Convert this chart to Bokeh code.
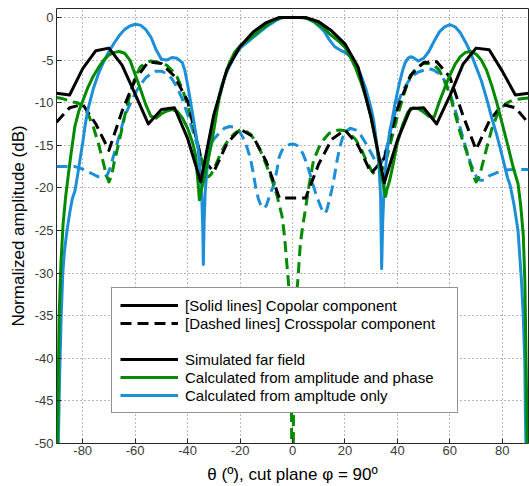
from bokeh.plotting import figure
from bokeh.models import Range1d, FixedTicker, Legend, LegendItem
from bokeh.embed import file_html
from bokeh.resources import INLINE

# ---------------- data ----------------
# Simulated far field, 5 degree sampling
theta_sim = [-90, -85, -80, -75, -70, -65, -60, -55, -50, -45, -40, -35, -30, -25, -20, -15, -10, -5, 0,
             5, 10, 15, 20, 25, 30, 35, 40, 45, 50, 55, 60, 65, 70, 75, 80, 85, 90]
sim_copolar = [-8.9, -9.1, -6.0, -3.9, -3.6, -5.6, -9.0, -12.5, -10.8, -10.6, -14.2, -19.3, -11.4, -6.1, -3.4, -1.7, -0.6, 0.0, 0.0,
               0.0, -0.5, -1.6, -3.1, -5.8, -11.8, -19.4, -14.4, -10.7, -10.6, -12.5, -9.2, -5.5, -3.6, -3.8, -6.3, -9.1, -8.9]
sim_crosspolar = [-12.3, -10.6, -10.2, -12.5, -15.6, -11.0, -7.3, -5.2, -5.4, -6.9, -9.8, -16.4, -18.1, -14.8, -13.1, -14.0, -16.9, -21.2, -21.2,
                  -21.2, -17.2, -14.3, -13.2, -15.0, -18.3, -16.5, -10.7, -6.8, -5.3, -5.2, -7.0, -11.5, -15.5, -12.2, -10.2, -10.6, -12.4]

# Calculated from amplitude and phase - copolar
theta_ap_co = [-90, -89.5, -89, -88.3, -87.5, -86.5, -85.5, -84.5, -83, -81.5, -80, -78, -76, -74, -72, -70, -68, -66, -64, -62,
               -60, -58, -56, -54, -52, -50, -48, -46, -44, -42, -40, -38, -37, -36, -35.5, -35, -34, -33, -32, -31,
               -30, -29, -28, -26, -24, -22, -20, -18, -16, -14, -12, -10, -8, -6, -4, -2, 0, 2, 4, 6,
               8, 10, 12, 14, 16, 18, 20, 22, 24, 26, 28, 30, 32, 33, 34, 35, 35.5, 36, 37, 38,
               40, 42, 44, 46, 48, 50, 52, 54, 56, 58, 60, 62, 64, 66, 68, 70, 72, 74, 76, 78,
               80, 82, 84, 86, 87, 88, 88.6, 89, 89.5, 90]
ap_copolar = [-60, -47, -35, -28.8, -24.3, -21, -18.5, -16.1, -12.8, -11.0, -9.8, -8.2, -6.9, -5.9, -5.0, -4.4, -4.1, -4.0, -4.2, -5.0,
              -6.7, -8.4, -10.2, -11.6, -11.8, -11.3, -11.0, -10.8, -11.0, -11.8, -13.0, -14.8, -16.1, -19.5, -21.4, -20.5, -19.3, -17.8, -16.4, -15.0,
              -13.2, -11.3, -9.6, -7.1, -5.3, -4.05, -3.35, -2.85, -2.4, -1.9, -1.4, -0.95, -0.5, -0.2, 0.0, 0.0, 0.0, 0.0, 0.0, -0.15,
              -0.45, -0.85, -1.25, -1.9, -2.4, -2.9, -3.5, -4.6, -5.9, -7.5, -9.4, -11.8, -14.9, -16.7, -18.5, -20.3, -21.0, -20.2, -19.2, -17.8,
              -14.7, -12.6, -11.1, -10.6, -10.7, -11.1, -11.6, -11.7, -9.9, -8.3, -6.8, -5.5, -4.6, -4.1, -4.0, -4.3, -5.0, -6.2, -8.0, -10.1,
              -12.5, -14.9, -17.4, -19.5, -22.0, -25.5, -30.8, -38.6, -50, -60]

# Calculated from amplitude and phase - crosspolar
theta_ap_x = [-90, -88, -86, -84, -82, -80, -78, -76, -74, -72, -71, -70, -69, -68, -66, -64, -62, -60, -58, -56,
              -54, -52, -50, -48, -46, -44, -42, -40, -38, -36, -34, -33, -32, -31, -30, -28, -26, -24, -22, -20,
              -18, -16, -14, -12, -10, -8, -6, -4, -3, -2, -1, -0.5, 0, 0.5, 1, 2, 3, 4, 5, 6,
              7, 8, 10, 12, 14, 16, 18, 20, 22, 24, 26, 28, 30, 32, 33, 34, 36, 38, 40, 42,
              44, 46, 48, 50, 52, 54, 56, 58, 60, 62, 64, 66, 68, 69, 70, 71, 72, 74, 76, 78,
              80, 82, 84, 86, 88, 90]
ap_crosspolar = [-9.4, -9.5, -9.7, -9.9, -10.0, -10.4, -11.3, -12.8, -14.8, -17.2, -18.5, -19.3, -18.6, -17.0, -14.4, -11.6, -9.0, -7.0, -5.8, -5.3,
                 -5.1, -5.2, -5.4, -5.6, -6.2, -7.0, -8.4, -10.3, -12.5, -15.0, -17.6, -18.5, -18.7, -18.4, -17.8, -16.4, -15.1, -14.2, -13.6, -13.2,
                 -13.3, -13.7, -14.6, -15.8, -17.3, -18.9, -20.8, -23.3, -25.8, -29.5, -33, -38, -70, -38, -34, -31, -26.5, -24.3, -22.4, -20.3,
                 -18.5, -16.8, -15.3, -14.3, -13.6, -13.3, -13.2, -13.3, -13.7, -14.3, -15.3, -16.7, -17.9, -18.7, -18.6, -18.0, -16.4, -14.0, -11.6, -9.5,
                 -7.6, -6.4, -5.7, -5.4, -5.4, -5.6, -6.2, -7.5, -9.0, -11.3, -13.6, -15.4, -17.4, -18.6, -19.3, -18.8, -17.8, -15.4, -13.1, -11.5,
                 -10.5, -10.0, -9.7, -9.6, -9.5, -9.45]

# Calculated from amplitude only - copolar
theta_a_co = [-90, -89.3, -88.8, -88.2, -87.6, -87, -86, -85, -84, -83, -82, -81, -80, -79, -78, -76, -74, -72, -70, -68,
              -66, -64, -62, -60, -58, -56, -54, -52, -50, -48, -46, -44, -42, -41, -40, -39, -38, -37, -36, -35.2,
              -34.6, -34.2, -34, -33.7, -33.3, -32.5, -32, -31, -30, -29, -28, -27, -26, -24, -22, -20, -18, -16, -14, -12,
              -10, -8, -6, -4, -2, 0, 2, 4, 6, 8, 10, 12, 14, 16, 18, 20, 22, 24, 26, 28,
              30, 31, 32, 33, 33.6, 34, 34.4, 35, 36, 37, 38, 39, 40, 41, 42, 43, 44, 45, 46, 48,
              50, 52, 54, 56, 58, 60, 62, 64, 66, 68, 70, 72, 74, 76, 78, 80, 82, 83, 84.5, 86,
              87.3, 88, 88.6, 88.8, 89, 90]
a_copolar = [-65, -50, -42, -35, -30, -27.5, -25, -23, -21.3, -20.4, -18.6, -16.6, -14.7, -12.5, -10.8, -8.4, -6.6, -5.2, -4.0, -3.0,
             -2.1, -1.4, -1.0, -0.8, -0.9, -1.4, -2.3, -3.8, -4.9, -5.0, -4.7, -4.8, -5.3, -6.3, -7.9, -9.7, -11.5, -13.4, -15.3, -18.2,
             -21, -25, -29, -24, -20.5, -17.5, -16.4, -14.2, -12.5, -10.8, -9.3, -8.0, -7.1, -5.7, -4.5, -3.6, -3.1, -2.6, -2.1, -1.6,
             -1.1, -0.7, -0.3, -0.05, 0, 0, 0, -0.05, -0.2, -0.5, -1.0, -1.6, -2.6, -3.4, -3.8, -4.1, -4.6, -5.5, -6.7, -8.4,
             -10.7, -12.2, -14.5, -17.5, -21, -29.5, -24, -19.5, -16, -13.5, -12.0, -10.3, -8.8, -7.4, -6.2, -5.3, -4.8, -4.6, -4.7, -5.1,
             -4.8, -4.0, -2.8, -1.7, -1.1, -0.85, -1.1, -1.8, -2.9, -4.2, -5.8, -7.4, -9.5, -11.8, -13.9, -16.3, -18.8, -19.7, -22, -25,
             -30.8, -35, -40.6, -46.4, -50, -65]

# Calculated from amplitude only - crosspolar
theta_a_x = [-90, -86, -83, -80, -78, -76, -74, -72.5, -71.5, -70.5, -69.5, -68, -66, -64, -62, -60, -58, -56, -54, -52,
             -50, -48, -46, -44, -42, -40, -38, -36, -35, -34, -33, -32, -30, -28, -26, -24, -22, -20, -18, -16,
             -15, -14, -13, -12, -11, -10, -9, -8, -7, -6, -5, -4, -3, -2, -1, 0, 1, 2, 3, 4,
             5, 6, 7, 8, 9, 10, 11, 12, 13, 14, 15, 16, 17, 18, 19, 20, 22, 24, 26, 28,
             30, 31, 32, 33, 34, 35, 36, 38, 40, 42, 44, 46, 48, 50, 52, 54, 56, 58, 60, 62,
             64, 66, 68, 70, 71.5, 73, 75, 78, 81, 85, 90]
a_crosspolar = [-17.5, -17.5, -17.5, -17.8, -18.1, -18.4, -18.7, -18.8, -18.7, -18.4, -17.6, -16.0, -13.8, -11.6, -10.2, -8.9, -7.9, -7.1, -6.6, -6.3,
                -6.3, -6.6, -7.2, -8.2, -9.6, -11.4, -13.3, -15.3, -16.5, -17.3, -16.5, -15.3, -14.3, -13.6, -13.0, -12.8, -12.9, -13.5, -14.6, -16.6,
                -18.2, -20.0, -21.3, -22.1, -22.4, -22.1, -21.2, -20.3, -19.6, -18.0, -16.3, -15.6, -15.2, -15.0, -14.9, -14.85, -14.9, -15.1, -15.5, -16.0,
                -16.8, -17.7, -18.7, -19.8, -20.8, -21.6, -22.4, -23.0, -22.7, -21.5, -20.2, -18.6, -16.8, -15.3, -14.2, -13.5, -13.0, -13.2, -13.8, -14.8,
                -15.9, -16.5, -17.1, -17.5, -17.0, -16.2, -15.2, -12.5, -10.2, -8.6, -7.6, -6.8, -6.4, -6.2, -6.0, -6.2, -6.6, -7.4, -8.8, -10.8,
                -13.0, -15.2, -17.2, -18.6, -19.1, -19.1, -18.6, -18.2, -17.9, -17.85, -17.85]

x_ticks = [-80, -60, -40, -20, 0, 20, 40, 60, 80]
x_tick_labels = ["-80", "-60", "-40", "-20", "0", "20", "40", "60", "80"]
y_ticks = [0, -5, -10, -15, -20, -25, -30, -35, -40, -45, -50]
y_tick_labels = ["0", "-5", "-10", "-15", "-20", "-25", "-30", "-35", "-40", "-45", "-50"]

legend_labels = ["[Solid lines] Copolar component",
                 "[Dashed lines] Crosspolar component",
                 " ",
                 "Simulated far field",
                 "Calculated from amplitude and phase",
                 "Calculated from ampltude only"]

x_label = "\u03b8 (\u00ba), cut plane \u03c6 = 90\u00ba"
y_label = "Normalized amplitude (dB)"

# ---------------- style ----------------
BLACK = "#000000"
GREEN = "#008a00"
BLUE = "#1d8fd9"
FONT = "Liberation Sans"
DASH = "11 6"

p = figure(width=529, height=486, output_backend="svg", toolbar_location=None,
           x_range=Range1d(-90, 90), y_range=Range1d(-50, 1.05),
           min_border_left=56, min_border_right=1, min_border_top=8, min_border_bottom=43)

p.background_fill_color = "white"
p.border_fill_color = "white"
p.outline_line_color = "#262626"
p.outline_line_width = 1

for ax, ticks, labels in ((p.xaxis, x_ticks, x_tick_labels), (p.yaxis, y_ticks, y_tick_labels)):
    ax.ticker = FixedTicker(ticks=ticks)
    ax.major_label_overrides = {t: l for t, l in zip(ticks, labels)}
    ax.axis_line_color = None
    ax.major_tick_in = 5
    ax.major_tick_out = 0
    ax.major_tick_line_color = "#262626"
    ax.minor_tick_line_color = None
    ax.major_label_text_font = FONT
    ax.major_label_text_font_size = "13px"
    ax.major_label_text_color = "#3a3a3a"
    ax.major_label_standoff = 3
    ax.axis_label_text_font = FONT
    ax.axis_label_text_font_size = "17px"
    ax.axis_label_text_font_style = "normal"
    ax.axis_label_text_color = "#000000"
    ax.axis_label_standoff = 4

p.xaxis.axis_label = x_label
p.yaxis.axis_label = y_label
p.xaxis.major_label_standoff = 2
p.xaxis.axis_label_standoff = 7

for g in (p.xgrid, p.ygrid):
    g.grid_line_color = "#6f6f6f"
    g.grid_line_dash = "1 3"
    g.grid_line_width = 1

# curves: dashed (crosspolar) first, then solid (copolar)
r_a_x = p.line(theta_a_x, a_crosspolar, line_color=BLUE, line_width=3, line_dash=DASH, line_join="round")
r_ap_x = p.line(theta_ap_x, ap_crosspolar, line_color=GREEN, line_width=3, line_dash=DASH, line_join="round")
r_sim_x = p.line(theta_sim, sim_crosspolar, line_color=BLACK, line_width=3, line_dash=DASH, line_join="round")
r_a_co = p.line(theta_a_co, a_copolar, line_color=BLUE, line_width=3, line_join="round")
r_ap_co = p.line(theta_ap_co, ap_copolar, line_color=GREEN, line_width=3, line_join="round")
r_sim_co = p.line(theta_sim, sim_copolar, line_color=BLACK, line_width=3, line_join="round")
# fully transparent copy, used only for the empty spacer row of the legend
r_blank = p.line(theta_sim, sim_copolar, line_color=BLACK, line_alpha=0)

items = [LegendItem(label=lab, renderers=[r]) for lab, r in
         zip(legend_labels, [r_sim_co, r_sim_x, r_blank, r_sim_co, r_ap_co, r_a_co])]
legend = Legend(items=items, location=(55, 30))
legend.label_text_font = FONT
legend.label_text_font_size = "15px"
legend.label_text_color = "#000000"
legend.glyph_width = 58
legend.glyph_height = 18
legend.label_height = 18
legend.label_width = 264
legend.label_standoff = 7
legend.spacing = 0
legend.padding = 8
legend.margin = 0
legend.border_line_color = "#262626"
legend.border_line_width = 1
legend.background_fill_color = "white"
legend.background_fill_alpha = 1
p.add_layout(legend)

open("out.html", "w").write(file_html(p, INLINE))
